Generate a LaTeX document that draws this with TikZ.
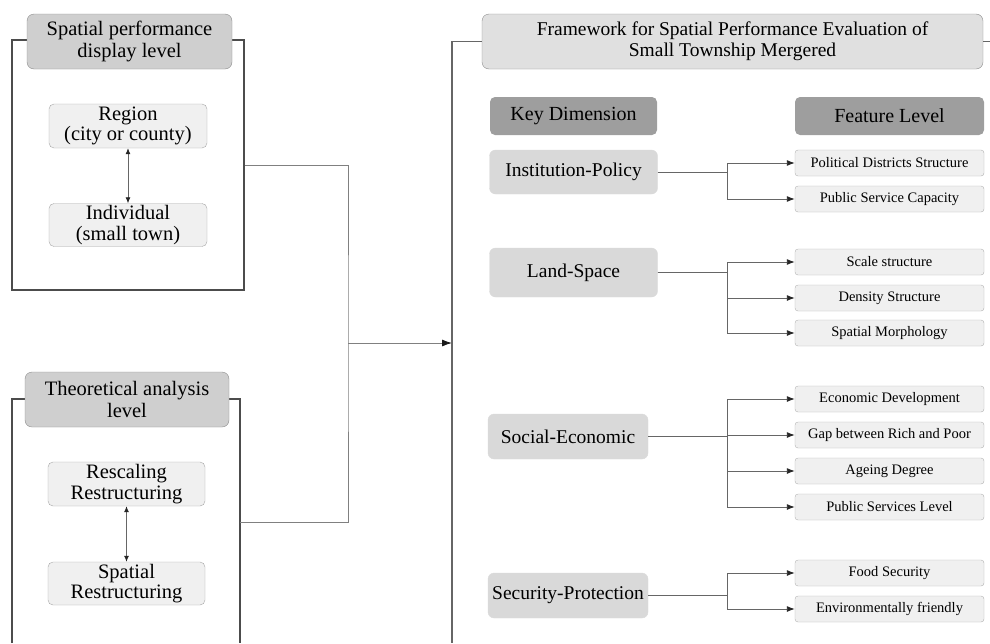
\documentclass[tikz,border=0pt]{standalone}
\usepackage{fontspec}
\setmainfont{Liberation Serif}
\usetikzlibrary{arrows.meta,positioning}

\begin{document}
\begin{tikzpicture}[
    x=1pt, y=-1pt,
    levelhead/.style={rectangle, draw=black!45, fill=black!19, rounded corners=7pt, align=center, minimum width=205pt, minimum height=55pt, inner sep=0pt, font=\fontsize{20.5}{21.5}\selectfont},
    inbox/.style={rectangle, draw=black!35, fill=black!6, rounded corners=5pt, align=center, minimum width=158pt, minimum height=44pt, inner sep=0pt, font=\fontsize{20.5}{20.5}\selectfont},
    colhead/.style={rectangle, fill=black!38, rounded corners=5pt, minimum height=38pt, inner sep=0pt, font=\fontsize{20}{20}\selectfont},
    dim/.style={rectangle, draw=black!14, fill=black!15, rounded corners=6pt, minimum height=45pt, inner sep=0pt, font=\fontsize{19.5}{20}\selectfont},
    feat/.style={rectangle, draw=black!30, fill=black!6, rounded corners=3pt, minimum width=189pt, minimum height=26pt, inner sep=0pt, font=\fontsize{14.5}{15}\selectfont},
    frame/.style={draw=black!70, line width=1.2pt},
    spine/.style={draw=black!60, line width=1.8pt},
    link/.style={draw=black!50, line width=0.9pt},
    line/.style={draw=black!60, line width=0.9pt, -{Latex[length=8pt,width=6pt,color=black!85]}},
    twoway/.style={draw=black!60, line width=0.8pt, {Latex[length=6pt,width=5pt,color=black!85]}-{Latex[length=6pt,width=5pt,color=black!85]}}
]
    \useasboundingbox (0,0) rectangle (990,643);

    % left side: the two levels
    \node [rectangle, frame, minimum width=232pt, minimum height=250pt] (dispframe) at (128,165) {};
    \draw [frame] (12,643) -- (12,399) -- (240,399) -- (240,643);
    \coordinate (theoout) at (240,522);

    \node [levelhead] (disp) at (129.5,41.5) {Spatial performance\\display level};
    \node [inbox] (region) at (128,126) {Region\\(city or county)};
    \node [inbox, minimum height=43pt] (indiv) at (128,225) {Individual\\(small town)};

    \node [levelhead, minimum width=204pt] (theo) at (127,399.5) {Theoretical analysis\\level};
    \node [inbox, minimum width=157pt] (rescale) at (126.5,484) {Rescaling\\Restructuring};
    \node [inbox, minimum width=157pt, minimum height=43pt] (spatial) at (126.5,583.5) {Spatial\\Restructuring};

    \draw [twoway] (region) -- (indiv);
    \draw [twoway] (rescale) -- (spatial);

    % join into the framework
    \coordinate (join) at (348,343);
    \coordinate (spinein) at (452,343);
    \draw [link] (dispframe.east) -| (join) |- (theoout);
    \draw [link, -{Latex[length=10pt,width=7pt,color=black!90]}] (join) -- (spinein);

    % right side: framework
    \node [rectangle, draw=black!45, fill=black!12, rounded corners=7pt, align=center, minimum width=501pt, minimum height=55pt, inner sep=0pt, font=\fontsize{19.5}{21}\selectfont] (frame) at (732.5,41.5) {Framework for Spatial Performance Evaluation of\\Small Township Mergered};
    \draw [spine] (frame.west) -| (452,643);
    \draw [spine] (frame.east) -- (990,41.5);

    \node [colhead, minimum width=167pt] (keydim) at (573.5,116) {Key Dimension};
    \node [colhead, minimum width=189pt] (featlvl) at (889.5,116) {Feature Level};

    \node [dim, minimum width=168pt, minimum height=44pt] (ip) at (573.5,172) {Institution-Policy};
    \node [dim, minimum width=168pt, minimum height=49pt] (ls) at (573.5,272.5) {Land-Space};
    \node [dim, minimum width=160pt] (se) at (568,436.5) {Social-Economic};
    \node [dim, minimum width=160pt] (sp) at (568,595.5) {Security-Protection};

    \node [feat] (pds) at (889.5,163) {Political Districts Structure};
    \node [feat] (psc) at (889.5,199) {Public Service Capacity};
    \node [feat] (ss) at (889.5,262) {Scale structure};
    \node [feat] (ds) at (889.5,298) {Density Structure};
    \node [feat] (sm) at (889.5,333) {Spatial Morphology};
    \node [feat] (ed) at (889.5,399) {Economic Development};
    \node [feat] (gap) at (889.5,435) {Gap between Rich and Poor};
    \node [feat] (age) at (889.5,471) {Ageing Degree};
    \node [feat] (psl) at (889.5,507) {Public Services Level};
    \node [feat] (fs) at (889.5,573) {Food Security};
    \node [feat] (ef) at (889.5,609) {Environmentally friendly};

    \coordinate (fork) at (727,0);
    \foreach \d/\f in {ip/pds, ip/psc, ls/ss, ls/ds, ls/sm, se/ed, se/gap, se/age, se/psl, sp/fs, sp/ef}
        \draw [line] (\d.east) -- (\d.east -| fork) |- (\f.west);
\end{tikzpicture}
\end{document}
